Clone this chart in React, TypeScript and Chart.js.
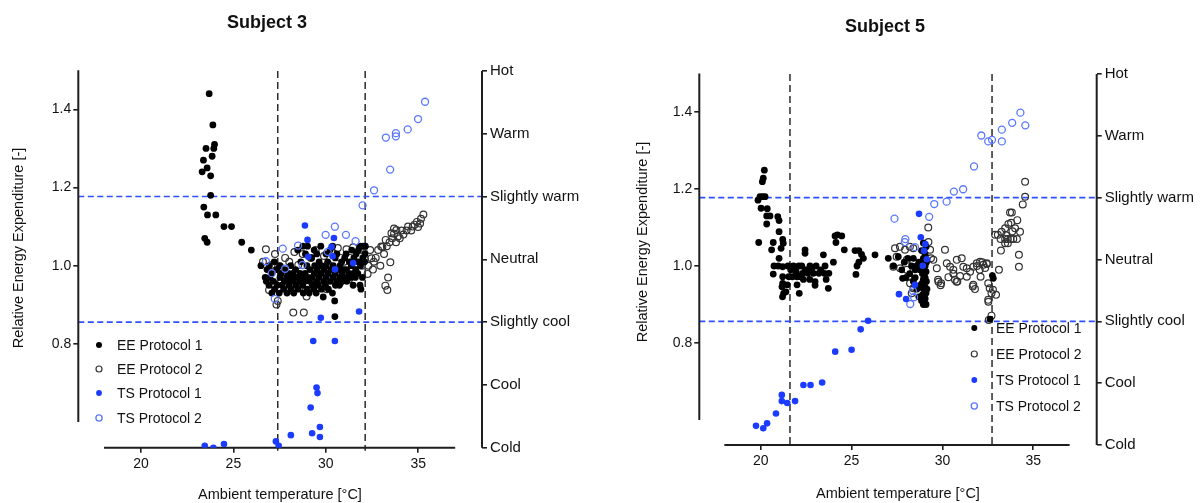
import React, { useEffect, useRef } from "react";
import { Chart, registerables } from "chart.js";

Chart.register(...registerables);

type P = [number, number];

const FONT = "'Liberation Sans', Arial, Helvetica, sans-serif";

// ---------- shared axis content ----------
const X_TICKS = [20, 25, 30, 35];
const Y_TICKS = [0.8, 1.0, 1.2, 1.4];
const X_AXIS_SPAN = [18, 37];
const Y_AXIS_SPAN = [0.6, 1.5];
const SENSATION_VALUES = [-3, -2, -1, 0, 1, 2, 3];
const SENSATION_LABELS = ["Cold", "Cool", "Slightly cool", "Neutral", "Slightly warm", "Warm", "Hot"];
const COMFORT_BOUNDS = [-1, 1];
const LEGEND_LABELS = ["EE Protocol 1", "EE Protocol 2", "TS Protocol 1", "TS Protocol 2"];
const X_TITLE = "Ambient temperature [°C]";
const Y_TITLE = "Relative Energy Expenditure [-]";

// ---------- Subject 3 ----------
const S3_LIMITS = [27.4, 32.13];
const S3_EE1: P[] = [
  [23.69, 1.44], [23.89, 1.36], [23.98, 1.31], [23.94, 1.30], [23.52, 1.30], [23.85, 1.28], [23.38, 1.27],
  [23.58, 1.25], [23.31, 1.24], [23.77, 1.23], [23.77, 1.18], [23.40, 1.15], [23.60, 1.13], [24.05, 1.13],
  [24.49, 1.10], [24.90, 1.10], [23.45, 1.07], [23.58, 1.06], [25.45, 1.06], [25.97, 1.04], [26.49, 1.00],
  [26.72, 0.97],
  [26.82, 0.99], [26.78, 0.96], [26.95, 1.00], [26.93, 0.95], [26.98, 0.97], [27.05, 0.98], [27.08, 0.93],
  [27.21, 1.01], [27.17, 0.96], [27.23, 0.94], [27.33, 0.99], [27.37, 0.95], [27.52, 0.97], [27.48, 0.93],
  [27.51, 1.00], [27.63, 0.95], [27.60, 0.98], [27.76, 0.96], [27.72, 0.94], [27.78, 0.99], [27.88, 0.97],
  [27.90, 0.93], [28.01, 0.95], [27.98, 0.98], [28.04, 0.96], [28.12, 0.94], [28.15, 0.97], [28.10, 1.00],
  [28.25, 0.96], [28.27, 0.93], [28.22, 0.98], [28.38, 0.95], [28.36, 0.99], [28.41, 0.97], [28.50, 0.94],
  [28.53, 0.97], [28.48, 1.04], [28.62, 0.96], [28.60, 0.98], [28.65, 1.01], [28.75, 0.95], [28.73, 0.97],
  [28.78, 0.93], [28.76, 1.05], [28.88, 0.98], [28.86, 0.96], [28.90, 1.03], [29.00, 0.94], [29.02, 0.97],
  [28.98, 1.00], [29.01, 1.05], [29.12, 0.96], [29.14, 0.99], [29.10, 0.93], [29.25, 0.97], [29.27, 0.95],
  [29.23, 1.02], [29.38, 0.98], [29.36, 0.94], [29.40, 1.00], [29.37, 1.04], [29.50, 0.96], [29.52, 0.99],
  [29.48, 0.93], [29.51, 1.03], [29.62, 0.97], [29.64, 1.01], [29.60, 0.95], [29.75, 0.98], [29.77, 0.94],
  [29.73, 1.05], [29.76, 1.00], [29.88, 0.96], [29.86, 0.92], [29.90, 0.99], [30.00, 0.97], [30.02, 1.00],
  [29.98, 0.95], [30.01, 1.03], [30.12, 0.98], [30.14, 0.94], [30.10, 1.01], [30.25, 0.96], [30.27, 0.99],
  [30.23, 1.04], [30.38, 0.97], [30.36, 0.93], [30.40, 1.00], [30.37, 1.05], [30.50, 0.98], [30.52, 0.95],
  [30.48, 0.91], [30.51, 1.02], [30.49, 0.87], [30.62, 0.96], [30.64, 0.99], [30.60, 1.03], [30.75, 0.97],
  [30.77, 1.00], [30.73, 0.95], [30.88, 0.98], [30.86, 1.01], [30.90, 0.96], [31.00, 0.97], [31.02, 1.02],
  [30.98, 0.99], [31.12, 0.99], [31.14, 0.96], [31.10, 1.03], [31.25, 0.98], [31.27, 1.01], [31.23, 0.97],
  [31.38, 1.00], [31.36, 0.97], [31.40, 1.04], [31.50, 0.98], [31.52, 1.02], [31.48, 0.95], [31.62, 0.99],
  [31.64, 1.03], [31.60, 0.97], [31.75, 1.01], [31.77, 1.04], [31.73, 0.98], [31.88, 1.00], [31.86, 1.05],
  [31.90, 0.94], [31.85, 0.95], [32.00, 1.02], [32.02, 1.05], [31.98, 0.97], [32.12, 1.03], [32.14, 1.05],
  [32.10, 1.01],
];
const S3_EE2: P[] = [
  [26.76, 1.042], [27.07, 1.002], [26.83, 0.962], [27.52, 0.998], [28.02, 1.01], [28.51, 1.002], [28.96, 0.921],
  [31.12, 1.042], [30.99, 1.01], [31.48, 1.047], [31.84, 1.04], [32.11, 1.015], [30.13, 1.004], [29.68, 0.987],
  [28.42, 0.963], [27.52, 0.955], [26.93, 0.938], [27.33, 0.901], [27.40, 0.91], [28.24, 0.88], [28.81, 0.88],
  [26.60, 1.01], [27.25, 1.03], [27.80, 1.02], [28.30, 1.035], [28.75, 1.03], [29.20, 1.02], [29.45, 1.04],
  [29.90, 1.025], [30.30, 1.035], [30.65, 1.045], [30.80, 1.02], [31.30, 1.02], [31.60, 1.005], [31.95, 1.0],
  [29.05, 0.965], [29.55, 0.945], [30.05, 0.94], [30.75, 0.955], [31.25, 0.965], [27.95, 0.935], [28.60, 0.945],
  [32.30, 1.00], [32.47, 1.019], [32.26, 0.979], [32.60, 1.01], [32.70, 1.02], [32.83, 1.04], [32.95, 1.0],
  [33.00, 1.049], [33.06, 1.048], [33.15, 1.03], [33.24, 1.066], [33.30, 1.05], [33.37, 0.97], [33.22, 0.949],
  [33.33, 0.938], [33.49, 1.009], [33.45, 1.06], [33.55, 1.083], [33.60, 1.07], [33.69, 1.095], [33.69, 1.082],
  [33.80, 1.06], [33.82, 1.091], [33.90, 1.075], [34.00, 1.07], [34.10, 1.09], [34.20, 1.08], [34.37, 1.09],
  [34.45, 1.10], [34.62, 1.09], [34.70, 1.10], [34.80, 1.105], [34.93, 1.112], [34.99, 1.099], [35.10, 1.108],
  [35.15, 1.12], [35.28, 1.131], [32.40, 1.04], [32.55, 0.99],
];
const S3_TS1: P[] = [
  [28.87, 0.54], [29.01, 0.31], [30.44, 0.34], [30.31, 0.20], [29.05, 0.04], [30.50, -0.16], [30.37, 0.05],
  [31.48, -0.06], [29.73, -0.93], [31.80, -0.83], [29.32, -1.30], [30.49, -1.30], [29.50, -2.04], [29.55, -2.13],
  [29.18, -2.36], [29.68, -2.67], [29.26, -2.77], [29.68, -2.83], [28.11, -2.80], [27.30, -2.90], [27.45, -2.97],
  [24.49, -2.94], [23.45, -2.97], [23.92, -3.0],
];
const S3_TS2: P[] = [
  [35.37, 2.51], [34.99, 2.235], [34.43, 2.07], [33.79, 2.01], [33.79, 1.96], [33.25, 1.94], [33.48, 1.43],
  [32.61, 1.10], [31.99, 0.86], [31.61, 0.29], [31.09, 0.39], [30.49, 0.52], [29.99, 0.39], [30.10, 0.12],
  [28.50, 0.22], [27.67, 0.17], [26.76, -0.03], [27.80, -0.15], [28.74, -0.09], [27.08, -0.22], [27.24, -0.63],
];

// ---------- Subject 5 ----------
const S5_LIMITS = [21.61, 32.73];
const S5_EE1: P[] = [
  [20.20, 1.249], [20.14, 1.228], [20.09, 1.219], [19.96, 1.18], [20.10, 1.18], [20.24, 1.18], [19.85, 1.171],
  [20.02, 1.15], [20.36, 1.149], [20.33, 1.13], [20.51, 1.13], [20.94, 1.128], [21.01, 1.118], [20.33, 1.109],
  [21.01, 1.089], [19.89, 1.061], [20.69, 1.061], [20.60, 1.042], [21.21, 1.069], [21.24, 1.059], [21.12, 1.046],
  [21.01, 1.02], [20.73, 1.0], [20.96, 1.0], [20.69, 0.979], [21.21, 0.998], [21.21, 0.972], [21.21, 0.955],
  [21.17, 0.946], [21.26, 0.929], [21.20, 0.920], [21.46, 0.951], [21.39, 0.933],
  [21.50, 1.0], [21.65, 0.99], [21.80, 1.0], [21.55, 0.972], [21.75, 0.972], [22.00, 0.972], [22.20, 0.972],
  [22.00, 0.951], [22.12, 0.929], [22.44, 1.042], [22.44, 1.033], [22.26, 1.0], [22.45, 0.99], [22.71, 1.0],
  [22.55, 0.99], [22.30, 0.981], [22.60, 0.981], [22.90, 0.981], [23.20, 0.981], [23.50, 0.981], [23.75, 0.981],
  [22.99, 0.959], [22.99, 0.95], [23.45, 1.029], [23.54, 1.0], [24.00, 1.01], [23.72, 0.942], [24.09, 1.078],
  [24.22, 1.081], [24.46, 1.078], [24.14, 1.061], [24.60, 1.042], [25.19, 1.04], [25.40, 1.04], [25.55, 1.03],
  [25.65, 1.02], [25.40, 1.01], [25.30, 1.0], [25.24, 0.978], [26.29, 1.029], [27.02, 1.02], [27.57, 1.024],
  [27.30, 1.0], [27.76, 0.99], [27.81, 0.968],
  [21.85, 0.99], [22.10, 1.0], [22.35, 0.965], [22.80, 0.99], [23.05, 1.0], [23.30, 0.99], [23.60, 0.965],
  [22.70, 0.965], [21.95, 0.985],
  [28.95, 0.90], [29.10, 0.90], [28.85, 0.91], [29.05, 0.915], [28.90, 0.925], [29.10, 0.93], [28.95, 0.94],
  [29.05, 0.945], [28.88, 0.955], [29.12, 0.96], [28.95, 0.965], [29.05, 0.97], [28.90, 0.98], [29.10, 0.985],
  [28.98, 0.99], [29.05, 1.0], [28.90, 1.005], [29.12, 1.01], [28.95, 1.02], [29.05, 1.03], [28.85, 1.04],
  [29.10, 1.05], [28.95, 1.06], [28.80, 0.95], [28.75, 0.99], [29.15, 0.94], [29.00, 0.91], [28.70, 1.01],
  [28.60, 1.0], [28.50, 0.99], [28.40, 1.02], [28.30, 1.0], [28.10, 1.02], [28.20, 0.98], [28.00, 0.97],
  [28.40, 0.96], [28.60, 0.94], [28.70, 0.92], [28.50, 0.97], [27.90, 1.01],
  [32.62, 0.862], [32.80, 0.968], [32.75, 0.975],
];
const S5_EE2: P[] = [
  [27.39, 1.046], [27.66, 1.050], [27.94, 1.042], [28.21, 1.050], [28.40, 1.046], [27.48, 1.024], [28.04, 1.016],
  [28.40, 1.011], [28.59, 0.998], [27.30, 0.998], [27.67, 0.994], [28.04, 0.990], [28.12, 0.972], [28.22, 0.955],
  [28.40, 0.942], [28.31, 0.929], [29.37, 1.02], [29.32, 1.042], [29.22, 1.10], [29.23, 1.062],
  [29.50, 1.016], [29.69, 0.994], [30.14, 1.042], [30.24, 1.007], [30.42, 0.998], [30.60, 0.99], [30.79, 1.016],
  [31.06, 1.02], [31.15, 0.998], [31.34, 0.994], [31.52, 0.985], [31.70, 0.998], [31.89, 1.007], [32.07, 1.011],
  [32.25, 1.003], [32.44, 1.007], [29.78, 0.959], [29.90, 0.95], [30.69, 0.964], [30.78, 0.959], [31.34, 0.972],
  [31.70, 0.951], [31.79, 0.94], [30.60, 0.98], [30.97, 0.974], [30.33, 0.971], [29.76, 0.964], [29.93, 0.955],
  [30.82, 0.96], [31.67, 0.947], [32.10, 0.972], [32.52, 0.955], [32.78, 0.938], [32.52, 0.912], [32.95, 0.925],
  [32.70, 0.871], [32.55, 0.86], [31.90, 1.0], [32.05, 0.99], [32.20, 1.01], [32.35, 0.995], [32.45, 1.005],
  [32.60, 0.942], [32.70, 0.929], [32.53, 0.907],
  [34.55, 1.219], [34.55, 1.18], [34.42, 1.160], [33.72, 1.139], [33.82, 1.139], [34.12, 1.119], [33.63, 1.109],
  [33.78, 1.112], [33.26, 1.089], [33.45, 1.098], [34.00, 1.098], [34.27, 1.089], [32.90, 1.081], [33.05, 1.081],
  [33.20, 1.07], [33.45, 1.07], [33.60, 1.07], [33.75, 1.07], [33.90, 1.07], [34.10, 1.07], [33.60, 1.059],
  [33.45, 1.059], [33.22, 1.040], [34.21, 1.029], [34.21, 0.998], [33.11, 0.99], [33.50, 1.08], [33.85, 1.09],
];
const S5_TS1: P[] = [
  [28.71, 0.738], [28.81, 0.36], [29.06, 0.25], [28.99, 0.14], [29.14, 0.005], [28.92, -0.10], [28.49, -0.41],
  [27.61, -0.56], [28.00, -0.64], [25.91, -0.99], [25.50, -1.13], [25.00, -1.46], [24.10, -1.49], [23.38, -1.99],
  [22.74, -2.03], [22.35, -2.03], [21.89, -2.29], [21.46, -2.32], [21.16, -2.29], [21.16, -2.19], [20.84, -2.49],
  [20.35, -2.65], [20.14, -2.73], [19.74, -2.69],
];
const S5_TS2: P[] = [
  [34.29, 2.375], [33.84, 2.21], [34.56, 2.17], [33.27, 2.10], [32.14, 2.005], [32.73, 1.935], [32.52, 1.91],
  [33.27, 1.91], [31.74, 1.505], [31.14, 1.136], [30.63, 1.098], [30.23, 0.935], [29.55, 0.897], [29.27, 0.69],
  [27.36, 0.66], [27.96, 0.33], [27.93, 0.28], [28.49, 0.20], [28.23, -0.72], [28.44, -0.61], [28.38, -0.51],
];

// ---------- styles ----------
const BLUE = "#1b3bff";
const LIGHT_BLUE = "#5a78ff";
const DASH_BLUE = "#2f50ff";
const AXIS_COLOR = "#1e1e1e";
const TEXT_COLOR = "#111111";

type Panel = {
  title: string;
  ee1: P[]; ee2: P[]; ts1: P[]; ts2: P[];
  limits: number[];
  offset: number;
  area: { l: number; r: number; t: number; b: number };
  xRange: [number, number];
  yRange: [number, number];
  titlePos: [number, number];
  yTitlePos: [number, number];
  xTitlePos: [number, number];
  legendX: number;
  legendTextX: number;
  legendRows: number[];
};

const W = 601;
const H = 503;

const PANELS: Panel[] = [
  {
    title: "Subject 3",
    ee1: S3_EE1, ee2: S3_EE2, ts1: S3_TS1, ts2: S3_TS2,
    limits: S3_LIMITS,
    offset: 0,
    area: { l: 78.3, r: 482, t: 71, b: 447.7 },
    xRange: [16.61, 38.45],
    yRange: [0.5345, 1.498],
    titlePos: [267, 23],
    yTitlePos: [19, 248],
    xTitlePos: [280, 495],
    legendX: 99,
    legendTextX: 117,
    legendRows: [345, 369, 393, 418],
  },
  {
    title: "Subject 5",
    ee1: S5_EE1, ee2: S5_EE2, ts1: S5_TS1, ts2: S5_TS2,
    limits: S5_LIMITS,
    offset: 601,
    area: { l: 98.3, r: 495.7, t: 74, b: 445 },
    xRange: [16.62, 38.49],
    yRange: [0.535, 1.4987],
    titlePos: [284, 27],
    yTitlePos: [42, 242],
    xTitlePos: [297, 494],
    legendX: 373.3,
    legendTextX: 395,
    legendRows: [328, 354, 380, 406],
  },
];

const MARKERS = [
  { fill: "#000000", stroke: null as string | null, r: 3.4, lw: 0 },
  { fill: null as string | null, stroke: "#333333", r: 3.4, lw: 1.2 },
  { fill: BLUE, stroke: null as string | null, r: 3.3, lw: 0 },
  { fill: null as string | null, stroke: LIGHT_BLUE, r: 3.5, lw: 1.3 },
];

function toXY(arr: P[]) {
  return arr.map(([x, y]) => ({ x, y }));
}

function ChartPanel({ panel }: { panel: Panel }) {
  const ref = useRef<HTMLCanvasElement | null>(null);

  useEffect(() => {
    const canvas = ref.current;
    if (!canvas) return;
    const a = panel.area;

    const overlay = {
      id: "overlay",
      beforeDatasetsDraw(chart: any) {
        const { ctx, chartArea } = chart;
        const sx = chart.scales.x, sy = chart.scales.y, sy2 = chart.scales.y2;
        ctx.save();
        ctx.lineCap = "butt";
        ctx.strokeStyle = "#2b2b2b";
        ctx.lineWidth = 1.5;
        ctx.setLineDash([7, 4]);
        panel.limits.forEach((v) => {
          const px = sx.getPixelForValue(v);
          ctx.beginPath();
          ctx.moveTo(px, chartArea.top);
          ctx.lineTo(px, chartArea.bottom + 3);
          ctx.stroke();
        });
        ctx.strokeStyle = DASH_BLUE;
        ctx.lineWidth = 1.6;
        ctx.setLineDash([6, 3.5]);
        COMFORT_BOUNDS.forEach((v) => {
          const py = sy2.getPixelForValue(v);
          ctx.beginPath();
          ctx.moveTo(chartArea.left, py);
          ctx.lineTo(chartArea.right, py);
          ctx.stroke();
        });
        ctx.setLineDash([]);
        ctx.strokeStyle = AXIS_COLOR;
        ctx.lineWidth = 2;
        ctx.beginPath();
        ctx.moveTo(chartArea.left, sy.getPixelForValue(Y_AXIS_SPAN[1]));
        ctx.lineTo(chartArea.left, sy.getPixelForValue(Y_AXIS_SPAN[0]));
        ctx.moveTo(sx.getPixelForValue(X_AXIS_SPAN[0]), chartArea.bottom);
        ctx.lineTo(sx.getPixelForValue(X_AXIS_SPAN[1]), chartArea.bottom);
        ctx.moveTo(chartArea.right, sy2.getPixelForValue(SENSATION_VALUES[SENSATION_VALUES.length - 1]));
        ctx.lineTo(chartArea.right, sy2.getPixelForValue(SENSATION_VALUES[0]));
        ctx.stroke();
        ctx.restore();
      },
      afterDraw(chart: any) {
        const { ctx } = chart;
        ctx.save();
        ctx.fillStyle = TEXT_COLOR;
        ctx.font = `bold 18px ${FONT}`;
        ctx.textAlign = "center";
        ctx.textBaseline = "middle";
        ctx.fillText(panel.title, panel.titlePos[0], panel.titlePos[1]);
        ctx.font = `14.5px ${FONT}`;
        ctx.fillText(X_TITLE, panel.xTitlePos[0], panel.xTitlePos[1]);
        ctx.save();
        ctx.translate(panel.yTitlePos[0], panel.yTitlePos[1]);
        ctx.rotate(-Math.PI / 2);
        ctx.fillText(Y_TITLE, 0, 0);
        ctx.restore();
        ctx.font = `14px ${FONT}`;
        ctx.textAlign = "left";
        LEGEND_LABELS.forEach((label, i) => {
          const m = MARKERS[i];
          const y = panel.legendRows[i];
          ctx.beginPath();
          ctx.arc(panel.legendX, y, m.r - 0.4, 0, Math.PI * 2);
          if (m.fill) {
            ctx.fillStyle = m.fill;
            ctx.fill();
          }
          if (m.stroke) {
            ctx.strokeStyle = m.stroke;
            ctx.lineWidth = m.lw;
            ctx.stroke();
          }
          ctx.fillStyle = TEXT_COLOR;
          ctx.fillText(label, panel.legendTextX, y + 1);
        });
        ctx.restore();
      },
    };

    const tickGrid = {
      display: true,
      drawOnChartArea: false,
      drawTicks: true,
      tickLength: 5,
      color: AXIS_COLOR,
      lineWidth: 1.6,
    };

    const ds = (arr: P[], i: number, axis: string, order: number) => {
      const m = MARKERS[i];
      return {
        label: LEGEND_LABELS[i],
        data: toXY(arr),
        yAxisID: axis,
        order,
        pointRadius: m.r,
        pointHoverRadius: m.r,
        pointBackgroundColor: m.fill || "rgba(0,0,0,0)",
        pointBorderColor: m.stroke || m.fill,
        pointBorderWidth: m.lw,
        showLine: false,
      };
    };

    const chart = new Chart(canvas, {
      type: "scatter",
      data: {
        datasets: [
          ds(panel.ts1, 2, "y2", 0),
          ds(panel.ts2, 3, "y2", 1),
          ds(panel.ee1, 0, "y", 2),
          ds(panel.ee2, 1, "y", 3),
        ],
      },
      options: {
        animation: false,
        responsive: false,
        maintainAspectRatio: false,
        events: [],
        layout: { padding: { left: 0, right: 0, top: a.t, bottom: 0 } },
        plugins: {
          legend: { display: false },
          tooltip: { enabled: false },
          title: { display: false },
        },
        scales: {
          x: {
            type: "linear",
            position: "bottom",
            min: panel.xRange[0],
            max: panel.xRange[1],
            afterFit: (s: any) => { s.height = H - a.b; },
            afterBuildTicks: (s: any) => { s.ticks = X_TICKS.map((v) => ({ value: v })); },
            grid: tickGrid,
            border: { display: false },
            ticks: {
              color: TEXT_COLOR,
              font: { family: FONT, size: 14 },
              padding: 3,
              maxRotation: 0,
              autoSkip: false,
              callback: (v: any) => String(v),
            },
          },
          y: {
            type: "linear",
            position: "left",
            min: panel.yRange[0],
            max: panel.yRange[1],
            afterFit: (s: any) => { s.width = a.l; },
            afterBuildTicks: (s: any) => { s.ticks = Y_TICKS.map((v) => ({ value: v })); },
            grid: tickGrid,
            border: { display: false },
            ticks: {
              color: TEXT_COLOR,
              font: { family: FONT, size: 14 },
              padding: 2,
              autoSkip: false,
              callback: (v: any) => Number(v).toFixed(1),
            },
          },
          y2: {
            type: "linear",
            position: "right",
            min: SENSATION_VALUES[0],
            max: SENSATION_VALUES[SENSATION_VALUES.length - 1],
            afterFit: (s: any) => { s.width = W - a.r; },
            afterBuildTicks: (s: any) => { s.ticks = SENSATION_VALUES.map((v) => ({ value: v })); },
            grid: tickGrid,
            border: { display: false },
            ticks: {
              color: TEXT_COLOR,
              font: { family: FONT, size: 15 },
              padding: 3,
              autoSkip: false,
              callback: (v: any) => SENSATION_LABELS[SENSATION_VALUES.indexOf(Number(v))],
            },
          },
        },
      },
      plugins: [overlay],
    } as any);

    return () => chart.destroy();
  }, [panel]);

  return (
    <canvas
      ref={ref}
      width={W}
      height={H}
      style={{ position: "absolute", left: panel.offset, top: 0, width: W, height: H }}
    />
  );
}

export default function App() {
  return (
    <div style={{ position: "absolute", left: 0, top: 0, width: 1202, height: 503, background: "#ffffff", overflow: "hidden" }}>
      {PANELS.map((p) => (
        <ChartPanel key={p.title} panel={p} />
      ))}
    </div>
  );
}
